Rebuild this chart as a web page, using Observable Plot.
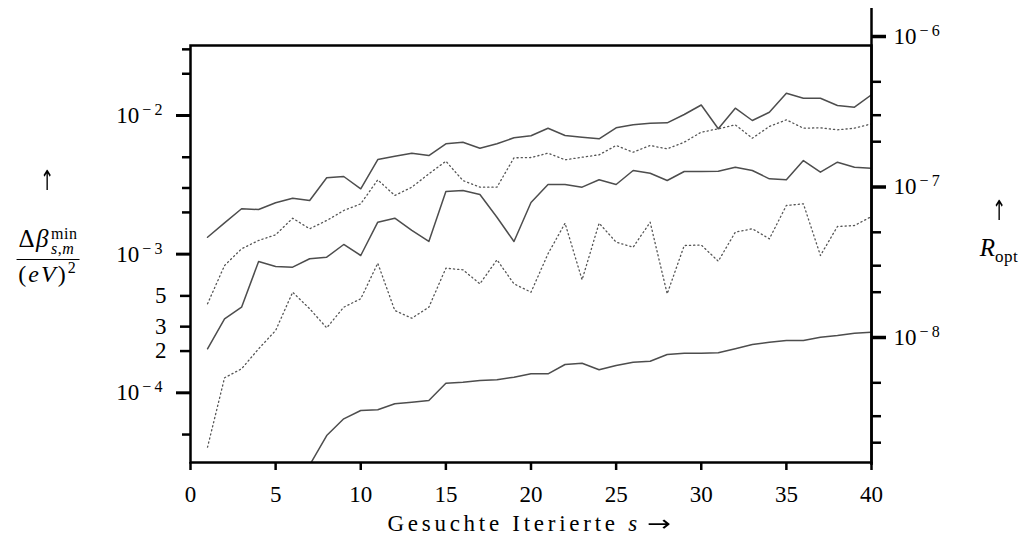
<!DOCTYPE html>
<html><head><meta charset="utf-8">
<script src="https://cdn.jsdelivr.net/npm/d3@7"></script>
<script src="https://cdn.jsdelivr.net/npm/@observablehq/plot@0.6"></script>
<style>
html,body{margin:0;padding:0;background:#fff;overflow:hidden;}
#wrap{position:relative;width:1025px;height:550px;font-family:"Liberation Serif","Times New Roman",serif;color:#000;}
#wrap svg{position:absolute;left:0;top:0;}
.lbl{position:absolute;white-space:nowrap;font-family:"Liberation Serif","Times New Roman",serif;font-size:23px;line-height:23px;color:#000;}
.c{transform:translateX(-50%);}
.arr{font-family:"DejaVu Sans",sans-serif;font-weight:normal;color:#000;display:inline-block;filter:grayscale(1) contrast(1.4);}
.ss{display:inline-block;vertical-align:middle;font-size:16px;line-height:15px;text-align:left;margin-left:1px;letter-spacing:0.5px;}
</style></head><body><div id="wrap"></div>
<script>
// iteration index s
const iterations = [1,2,3,4,5,6,7,8,9,10,11,12,13,14,15,16,17,18,19,20,21,22,23,24,25,26,27,28,29,30,31,32,33,34,35,36,37,38,39,40];
const iterationsE = [7,8,9,10,11,12,13,14,15,16,17,18,19,20,21,22,23,24,25,26,27,28,29,30,31,32,33,34,35,36,37,38,39,40];
// series (solid A, dotted B, solid C, dotted D, solid E)
const seriesA = [1.325e-3,1.683e-3,2.124e-3,2.099e-3,2.346e-3,2.532e-3,2.438e-3,3.554e-3,3.631e-3,2.960e-3,
 4.815e-3,5.087e-3,5.347e-3,5.146e-3,6.251e-3,6.419e-3,5.811e-3,6.251e-3,6.907e-3,7.140e-3,
 8.098e-3,7.176e-3,6.975e-3,6.791e-3,8.153e-3,8.568e-3,8.800e-3,8.857e-3,1.017e-2,1.190e-2,
 8.018e-3,1.129e-2,9.203e-3,1.056e-2,1.448e-2,1.333e-2,1.333e-2,1.181e-2,1.148e-2,1.410e-2];
const seriesB = [4.385e-4,8.283e-4,1.093e-3,1.255e-3,1.379e-3,1.817e-3,1.524e-3,1.749e-3,2.064e-3,2.307e-3,
 3.437e-3,2.649e-3,3.041e-3,3.797e-3,4.681e-3,3.398e-3,3.041e-3,3.041e-3,4.953e-3,4.978e-3,
 5.347e-3,4.791e-3,5.002e-3,5.206e-3,6.076e-3,5.437e-3,6.076e-3,5.752e-3,6.419e-3,7.578e-3,
 8.018e-3,8.568e-3,6.861e-3,8.330e-3,9.311e-3,8.098e-3,8.153e-3,7.886e-3,8.098e-3,8.712e-3];
const seriesC = [2.077e-4,3.417e-4,4.144e-4,8.851e-4,8.147e-4,8.053e-4,9.258e-4,9.506e-4,1.174e-3,9.779e-4,
 1.700e-3,1.817e-3,1.482e-3,1.234e-3,2.831e-3,2.878e-3,2.693e-3,1.847e-3,1.234e-3,2.358e-3,
 3.180e-3,3.180e-3,3.041e-3,3.437e-3,3.180e-3,4.011e-3,3.835e-3,3.398e-3,3.945e-3,3.945e-3,
 3.965e-3,4.237e-3,4.011e-3,3.495e-3,3.437e-3,4.736e-3,3.900e-3,4.605e-3,4.237e-3,4.168e-3];
const seriesD = [4.052e-5,1.283e-4,1.490e-4,2.077e-4,2.813e-4,5.316e-4,4.035e-4,2.942e-4,4.144e-4,4.764e-4,
 8.604e-4,3.923e-4,3.451e-4,4.144e-4,7.920e-4,7.712e-4,6.110e-4,9.105e-4,6.110e-4,5.316e-4,
 1.006e-3,1.672e-3,6.531e-4,1.672e-3,1.220e-3,1.122e-3,1.700e-3,5.176e-4,1.154e-3,1.164e-3,
 8.896e-4,1.440e-3,1.524e-3,1.290e-3,2.244e-3,2.307e-3,9.779e-4,1.583e-3,1.609e-3,1.868e-3];
const seriesE = [3.013e-5,4.920e-5,6.494e-5,7.455e-5,7.543e-5,8.330e-5,8.554e-5,8.800e-5,1.173e-4,1.193e-4,
 1.227e-4,1.241e-4,1.296e-4,1.371e-4,1.371e-4,1.600e-4,1.635e-4,1.465e-4,1.573e-4,1.662e-4,
 1.690e-4,1.889e-4,1.930e-4,1.930e-4,1.943e-4,2.077e-4,2.230e-4,2.317e-4,2.383e-4,2.383e-4,
 2.518e-4,2.590e-4,2.691e-4,2.736e-4];

// ticks
const xTicks = [0,5,10,15,20,25,30,35,40];
const leftMajor = [1e-2,1e-3,1e-4];
const leftMinorLabeled = [2e-4,3e-4,5e-4];
const leftMinorLabels = ["2","3","5"];
const leftMinor = [3e-2,2e-2,5e-3,3e-3,2e-3,5e-5];
const rightMajor = [1e-6,1e-7,1e-8];
const rightMinor = [5e-7,3e-7,2e-7,5e-8,3e-8,2e-8,5e-9,3e-9,2e-9];

const toRows = (xs, ys) => xs.map((s, i) => ({s, v: ys[i]}));
const solid = {stroke: "#4d4d4d", strokeWidth: 1.5, clip: true};
const dotted = {stroke: "#555", strokeWidth: 1.3, strokeDasharray: "1.2,3", clip: true};
const pow = d => "10^" + Math.round(Math.log10(d));

const common = {width: 1025, height: 550, marginLeft: 190, marginRight: 154,
  style: {fontFamily: "Liberation Serif", fontSize: "23px", background: "transparent", overflow: "visible", color: "#000"}};

const main = Plot.plot({
  ...common, marginTop: 45, marginBottom: 88,
  x: {domain: [0, 40], label: null},
  y: {type: "log", domain: [3.143e-5, 3.198e-2], label: null},
  marks: [
    Plot.line(toRows(iterations, seriesA), {x: "s", y: "v", ...solid}),
    Plot.line(toRows(iterations, seriesB), {x: "s", y: "v", ...dotted}),
    Plot.line(toRows(iterations, seriesC), {x: "s", y: "v", ...solid}),
    Plot.line(toRows(iterations, seriesD), {x: "s", y: "v", ...dotted}),
    Plot.line(toRows(iterationsE, seriesE), {x: "s", y: "v", ...solid}),
    Plot.frame({stroke: "#000", strokeWidth: 2.5}),
    Plot.axisX({ticks: xTicks, tickSize: 8, tickPadding: 15, strokeWidth: 2.5, tickFormat: d => String(d), label: null}),
    Plot.axisY({ticks: leftMajor, tickSize: 14, tickPadding: 14, strokeWidth: 3, tickFormat: pow, label: null}),
    Plot.axisY({ticks: leftMinorLabeled, tickSize: 10, strokeWidth: 2.5, tickFormat: () => "", label: null}),
    Plot.text(leftMinorLabeled, {y: d => d, text: (d, i) => leftMinorLabels[i], frameAnchor: "left", textAnchor: "end", dx: -24, fontSize: 23}),
    Plot.axisY({ticks: leftMinor, tickSize: 8, strokeWidth: 2.5, tickFormat: () => "", label: null})
  ]
});

const right = Plot.plot({
  ...common, marginTop: 8, marginBottom: 85,
  x: {domain: [0, 40], axis: null},
  y: {type: "log", domain: [1.411e-9, 1.535e-6], label: null},
  marks: [
    Plot.ruleX([40], {stroke: "#000", strokeWidth: 2.5}),
    Plot.axisY({anchor: "right", ticks: rightMajor, tickSize: 14, tickPadding: 8, strokeWidth: 3.5, tickFormat: pow, label: null}),
    Plot.axisY({anchor: "right", ticks: rightMinor, tickSize: 9, strokeWidth: 2.5, tickFormat: () => "", label: null})
  ]
});

const NS = "http://www.w3.org/2000/svg";
function supTicks(svg) {
  svg.querySelectorAll("text").forEach(t => {
    const m = /^10\^(-?\d+)$/.exec(t.textContent);
    if (!m) return;
    t.textContent = "";
    const base = document.createElementNS(NS, "tspan");
    base.textContent = "10";
    const sup = document.createElementNS(NS, "tspan");
    sup.setAttribute("dy", "-0.5em");
    sup.setAttribute("dx", "3");
    sup.setAttribute("font-size", "16px");
    const e = +m[1];
    sup.textContent = e < 0 ? "\u2212\u2009" + (-e) : String(e);
    t.append(base, sup);
  });
}
supTicks(main); supTicks(right);

const wrap = document.getElementById("wrap");
wrap.append(main, right);

function addLabel(html, x, y, center = true) {
  const d = document.createElement("div");
  d.className = "lbl" + (center ? " c" : "");
  d.style.left = x + "px"; d.style.top = y + "px";
  d.innerHTML = html;
  wrap.append(d);
  return d;
}
const ARROW_UP = '<span class="arr" style="font-size:24px;transform:scaleX(0.7) scaleY(1.15)">\u2191</span>';
// left label
addLabel(ARROW_UP, 47, 170);
addLabel('<div style="border-bottom:1.5px solid #000;padding:0 2px 3px 2px;text-align:center;font-size:25px;letter-spacing:1.5px">\u0394<i>\u03b2</i><span class="ss"><span style="display:block">min</span><span style="display:block"><i>s</i>,<i>m</i></span></span></div>' +
  '<div style="text-align:center;padding-top:3px;font-size:24px;letter-spacing:2px">(<i>eV</i>)<sup style="font-size:16px;line-height:0">2</sup></div>', 48, 226);
// right label
addLabel(ARROW_UP, 999, 200);
addLabel('<span style="font-size:25px"><i>R</i></span><sub style="font-size:17px;line-height:0;letter-spacing:0.5px">opt</sub>', 999, 236);
// bottom label, stretched to the reference width
const bl = addLabel('Gesuchte Iterierte <i>s</i> <span class="arr" style="font-size:22px;transform:scaleX(1.3)">\u2192</span>', 530, 512);
const targetW = 285;
const w0 = bl.getBoundingClientRect().width;
const nChars = bl.textContent.length;
bl.style.letterSpacing = Math.max(0, (targetW - w0) / nChars) + "px";
</script></body></html>
